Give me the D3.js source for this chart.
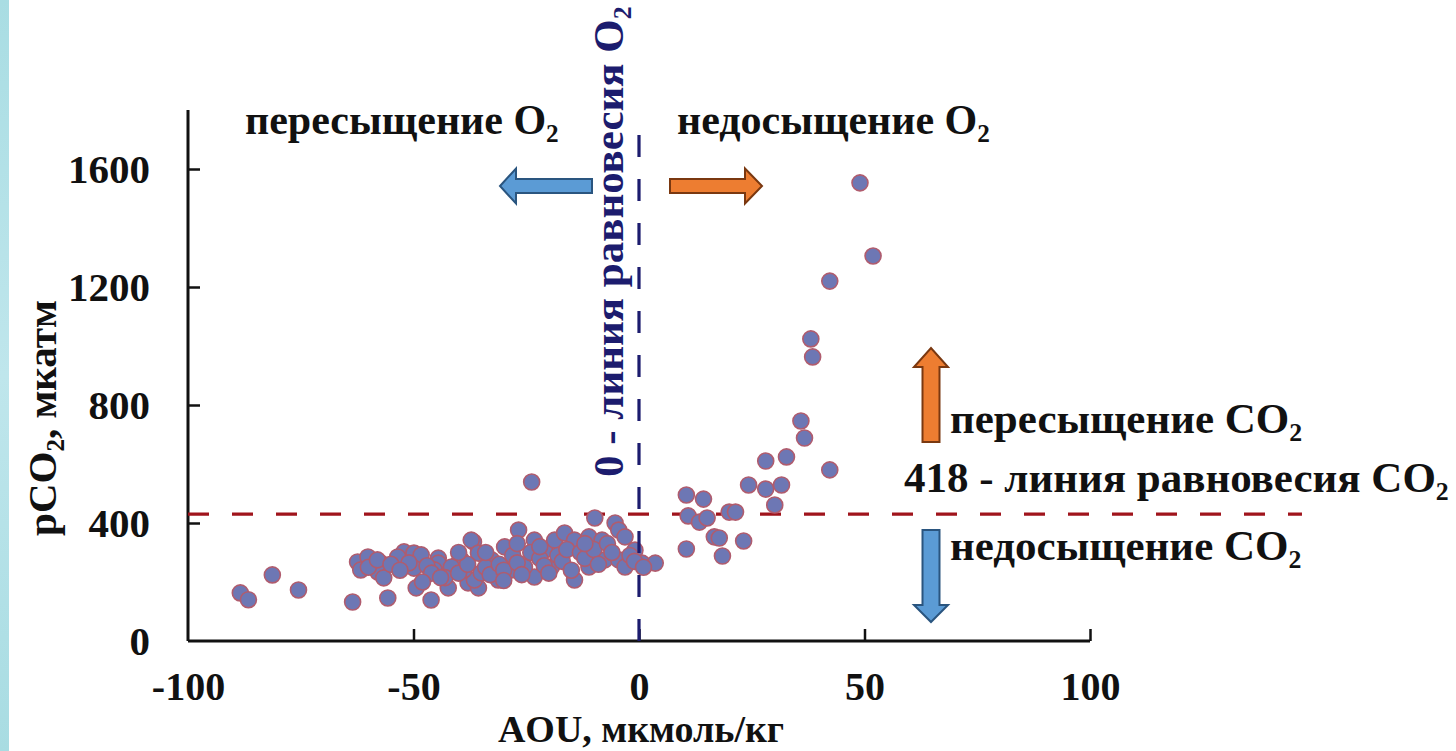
<!DOCTYPE html>
<html><head><meta charset="utf-8">
<script src="https://cdn.jsdelivr.net/npm/d3@7"></script>
<style>html,body{margin:0;padding:0;background:#fff;overflow:hidden}</style>
</head><body>
<svg id="chart" width="1456" height="751"></svg>
<script>
// ---- data ----
const aou = [
  49.0, 51.9, 42.3, 38.1, 38.5, 35.9, 36.7, 42.3, 28.1, 32.7, 24.3, 28.1, 31.6, 30.1,
  10.5, 14.3, 10.9, 13.4, 15.1, 16.7, 17.8, 10.5, 18.5, 20.0, 21.4, 23.2,
  -88.4, -86.6, -81.3, -75.5, -63.5, -55.7, -46.1, -23.8,
  -62.4, -60.1, -57.2, -61.7, -57.9, -56.6, -52.1, -49.9, -48.3, -49.9, -44.5, -49.4, -42.3,
  -39.9, -36.7, -37.9, -35.6, -37.2, -26.7, -5.3, -9.8, -53.5, -51.0, -44.5, -39.4, -35.6,
  -32.7, -29.8, -28.3, -31.2, -23.2, -20.9, -18.7, -16.5, -14.3, -11.1, -8.2, -4.5, -3.1,
  -23.2, -25.4, -19.4, -14.3, -11.1, -7.6, -4.5, -0.9, 0.7, 3.6, -3.1, -36.5, -35.0, -38.8,
  -41.6, -45.4, -60, -58, -55, -53, -47, -46, -43, -40, -38, -34, -33, -31, -30, -28, -27,
  -26, -24, -22, -21, -20, -18, -17, -16, -15, -13, -12, -10, -9, -7, -6, -2, -1, 1,
  -34, -40, -44, -48, -30, -22, -12, -27
];
const pco2 = [
  1553, 1305, 1220, 1024, 963, 746, 688, 580, 610, 624, 529, 515, 529, 461,
  495, 481, 424, 403, 417, 353, 349, 312, 288, 437, 437, 339,
  163, 140, 224, 173, 132, 146, 139, 539,
  268, 285, 264, 241, 234, 214, 302, 298, 292, 247, 281, 180, 180,
  268, 336, 197, 180, 342, 376, 400, 417, 285, 265, 264, 275, 298,
  275, 319, 241, 207, 342, 308, 342, 366, 342, 353, 342, 376, 353,
  217, 251, 251, 207, 251, 275, 275, 308, 264, 264, 251, 207, 231, 241,
  251, 241, 250, 275, 260, 240, 255, 230, 215, 230, 260, 250, 225, 260, 240, 290, 265,
  225, 300, 280, 255, 230, 290, 270, 310, 240, 300, 280, 310, 260, 330, 300, 290, 270, 250,
  300, 300, 215, 200, 205, 320, 330, 330
];
const xTicks = [-100, -50, 0, 50, 100];
const yTicks = [0, 400, 800, 1200, 1600];
const xDomain = [-100, 100];
const yDomain = [0, 1800];
const co2Line = 430;      // drawn level of the CO2 equilibrium line
const co2Label = "418";
const o2Line = 0;

// ---- setup ----
const svg = d3.select("#chart");
const FONT = "'Liberation Serif','Times New Roman',serif";
const x = d3.scaleLinear().domain(xDomain).range([188, 1090]);
const y = d3.scaleLinear().domain(yDomain).range([641, 110]);

// left light-blue strip
const defs = svg.append("defs");
const lg = defs.append("linearGradient").attr("id","strip").attr("x1",0).attr("x2",0).attr("y1",0).attr("y2",1);
lg.append("stop").attr("offset","0%").attr("stop-color","#a9dde3");
lg.append("stop").attr("offset","50%").attr("stop-color","#bfe6ec");
lg.append("stop").attr("offset","100%").attr("stop-color","#a8dce2");
svg.append("rect").attr("x",0).attr("y",0).attr("width",9).attr("height",751).attr("fill","url(#strip)");

// axes
const fmt = d => String(d);
const xAxis = d3.axisBottom(x).tickValues(xTicks).tickSize(-12).tickSizeOuter(0).tickPadding(31).tickFormat(fmt);
const yAxis = d3.axisLeft(y).tickValues(yTicks).tickSize(-12).tickSizeOuter(0).tickPadding(38).tickFormat(fmt);

const gx = svg.append("g").attr("transform", `translate(0,${y(0)})`).call(xAxis);
const gy = svg.append("g").attr("transform", `translate(${x(-100)},0)`).call(yAxis);
[gx, gy].forEach(g => {
  g.select(".domain").attr("stroke","#111").attr("stroke-width",3);
  g.selectAll(".tick line").attr("stroke","#111").attr("stroke-width",2.5);
  g.selectAll(".tick text").attr("fill","#111").attr("font-family",FONT)
   .attr("font-weight","bold").attr("font-size",41);
});
gx.selectAll(".tick text").attr("font-size",40);
gx.selectAll(".tick").filter(d => d === -100).select("line").remove();
gy.selectAll(".tick").filter(d => d === 0).select("line").remove();
gy.select(".domain").attr("d", `M0,${y(0)}V${y(1800)}`);
gx.select(".domain").attr("d", `M${x(-100)},0H${x(100)}`);

// axis titles
svg.append("text").attr("x", 641).attr("y", 742).attr("text-anchor","middle")
  .attr("font-family",FONT).attr("font-weight","bold").attr("font-size",38).attr("fill","#111")
  .text("AOU, мкмоль/кг");
const yt = svg.append("text").attr("transform","translate(56,418) rotate(-90)").attr("text-anchor","middle")
  .attr("font-family",FONT).attr("font-weight","bold").attr("font-size",41).attr("fill","#111");
yt.append("tspan").text("pCO");
yt.append("tspan").attr("font-size",25).attr("dy",8).text("2");
yt.append("tspan").attr("dy",-8).text(", мкатм");

// equilibrium lines
svg.append("line").attr("x1", x(-100)).attr("x2", x(147)).attr("y1", y(co2Line)).attr("y2", y(co2Line))
  .attr("stroke","#a0141c").attr("stroke-width",3.2).attr("stroke-dasharray","21,23");

// points
svg.append("g").selectAll("circle").data(d3.range(aou.length)).join("circle")
  .attr("cx", i => x(aou[i])).attr("cy", i => y(pco2[i])).attr("r", 8)
  .attr("fill","#6d77b4").attr("stroke","#b05c6e").attr("stroke-width",1.6);

svg.append("line").attr("x1", x(o2Line)).attr("x2", x(o2Line)).attr("y1", y(0)).attr("y2", y(1750))
  .attr("stroke","#1c1c6e").attr("stroke-width",3.2).attr("stroke-dasharray","22,22");

// text helper with subscript
function label(xp, yp, main, sub, opts = {}) {
  const size = opts.size || 43;
  const t = svg.append("text").attr("x", xp).attr("y", yp)
    .attr("font-family",FONT).attr("font-weight","bold").attr("font-size", size)
    .attr("fill", opts.fill || "#111").attr("text-anchor", opts.anchor || "start");
  if (opts.transform) t.attr("transform", opts.transform).attr("x",0).attr("y",0);
  t.append("tspan").text(main);
  t.append("tspan").attr("font-size", size * 0.6).attr("dy", 8).text(sub);
  return t;
}
label(245, 134, "пересыщение O", "2", {size:42});
label(677, 134, "недосыщение O", "2", {size:42});
label(950, 433, "пересыщение CO", "2");
label(904, 492, co2Label + " - линия равновесия CO", "2");
label(950, 560, "недосыщение CO", "2");
label(0, 0, "0 - линия равновесия O", "2", {fill:"#1c1c6e", transform:"translate(623,477) rotate(-90)"});

// arrows
function arrow(x0, y0, x1, y1, shaftW, headW, headL, fill, stroke) {
  const dx = x1 - x0, dy = y1 - y0, len = Math.hypot(dx, dy);
  const ux = dx / len, uy = dy / len, px = -uy, py = ux;
  const bx = x1 - ux * headL, by = y1 - uy * headL;
  const pts = [
    [x0 + px*shaftW/2, y0 + py*shaftW/2],
    [bx + px*shaftW/2, by + py*shaftW/2],
    [bx + px*headW/2, by + py*headW/2],
    [x1, y1],
    [bx - px*headW/2, by - py*headW/2],
    [bx - px*shaftW/2, by - py*shaftW/2],
    [x0 - px*shaftW/2, y0 - py*shaftW/2]
  ];
  svg.append("path").attr("d", d3.line()(pts) + "Z").attr("fill", fill)
    .attr("stroke", stroke).attr("stroke-width", 2).attr("stroke-linejoin","miter");
}
const BLUE = "#5b9bd5", BLUE_S = "#2a557f", OR = "#ed7d31", OR_S = "#7a3810";
arrow(592, 186, 500, 186, 14, 35, 16, BLUE, BLUE_S);
arrow(670, 186, 762, 186, 14, 35, 17, OR, OR_S);
arrow(931, 442, 931, 348, 17, 34, 19, OR, OR_S);
arrow(931, 530, 931, 622, 17, 34, 17, BLUE, BLUE_S);
</script>
</body></html>
